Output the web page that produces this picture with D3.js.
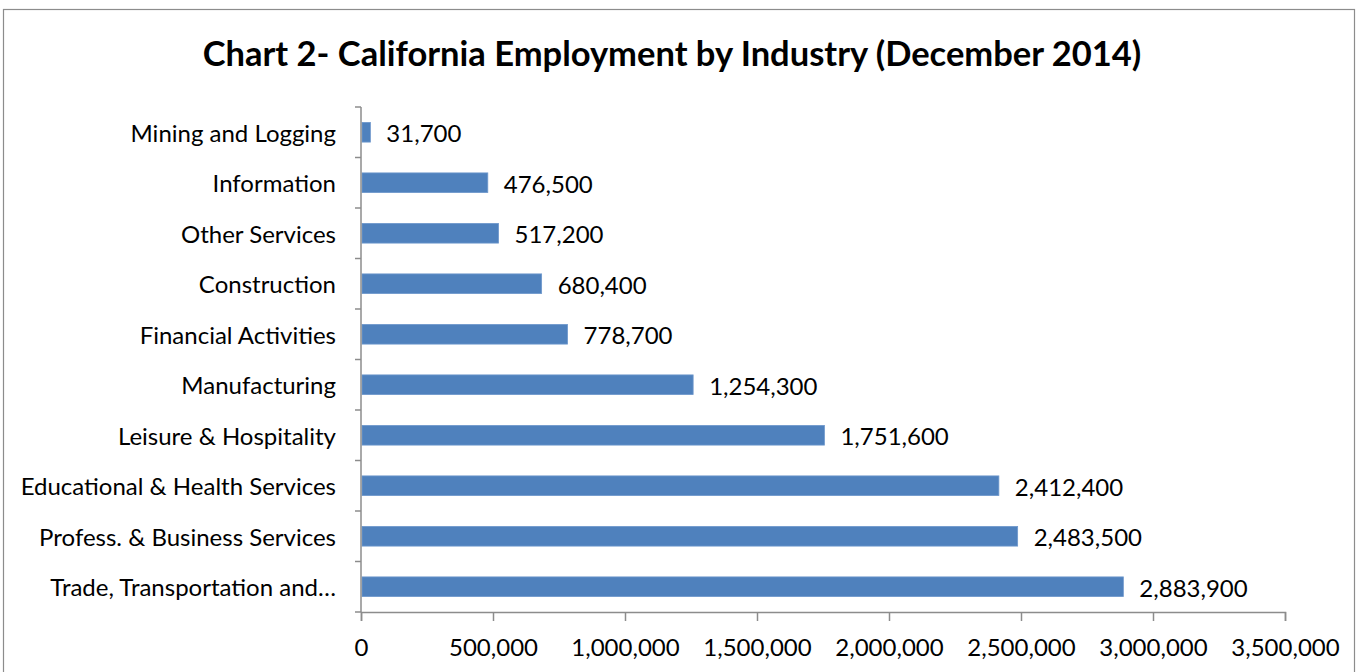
<!DOCTYPE html>
<html>
<head>
<meta charset="utf-8">
<script src="https://cdn.jsdelivr.net/npm/d3@7"></script>
<style>
  body { margin: 0; background: #fff; }
  svg { display: block; font-family: Lato, "Open Sans", sans-serif; }
</style>
</head>
<body>
<svg id="chart"></svg>
<script>
// data
const industries = [
  "Mining and Logging",
  "Information",
  "Other Services",
  "Construction",
  "Financial Activities",
  "Manufacturing",
  "Leisure & Hospitality",
  "Educational & Health Services",
  "Profess. & Business Services",
  "Trade, Transportation and\u2026"
];
const employment = [31700, 476500, 517200, 680400, 778700, 1254300, 1751600, 2412400, 2483500, 2883900];
const xTicks = [0, 500000, 1000000, 1500000, 2000000, 2500000, 3000000, 3500000];

// setup
const width = 1356, height = 672;
const margin = { top: 107, right: 71, bottom: 60, left: 361 };
const barColor = "#4f81bd";
const labelSize = 24;
const fmt = d3.format(",");

const svg = d3.select("#chart").attr("width", width).attr("height", height);

// outer frame
svg.append("rect")
  .attr("x", 3.5).attr("y", 9.5)
  .attr("width", 1351).attr("height", 680)
  .attr("fill", "none").attr("stroke", "#8c8c8c").attr("stroke-width", 1.2);

svg.append("text")
  .attr("x", 672).attr("y", 66)
  .attr("text-anchor", "middle")
  .attr("font-size", 34.5).attr("font-weight", "bold")
  .text("Chart 2- California Employment by Industry (December 2014)");

const x = d3.scaleLinear()
  .domain([0, 3500000])
  .range([margin.left, width - margin.right]);

const y = d3.scaleBand()
  .domain(industries)
  .range([margin.top, 612])
  .paddingInner(0.61)
  .paddingOuter(0.305);

// bars
svg.append("g")
  .selectAll("rect")
  .data(industries)
  .join("rect")
    .attr("x", x(0) + 1)
    .attr("y", d => y(d))
    .attr("width", (d, i) => x(employment[i]) - x(0))
    .attr("height", y.bandwidth())
    .attr("fill", barColor)
    .attr("stroke", "#6f98cc")
    .attr("stroke-width", 0.8);

// value labels
svg.append("g")
  .selectAll("text")
  .data(industries)
  .join("text")
    .attr("x", (d, i) => x(employment[i]) + 17)
    .attr("y", d => y(d) + y.bandwidth() / 2)
    .attr("dy", "0.42em")
    .attr("font-size", labelSize)
    .attr("fill", "#000")
    .text((d, i) => fmt(employment[i]));

// y axis: line + ticks between categories
const yAxis = svg.append("g");
yAxis.append("line")
  .attr("x1", x(0)).attr("x2", x(0))
  .attr("y1", margin.top).attr("y2", 612)
  .attr("stroke", "#8c8c8c").attr("stroke-width", 1.5);
const step = y.step();
yAxis.selectAll("line.tk")
  .data(d3.range(industries.length + 1))
  .join("line")
    .attr("class", "tk")
    .attr("x1", x(0) - 6).attr("x2", x(0))
    .attr("y1", i => margin.top + i * step)
    .attr("y2", i => margin.top + i * step)
    .attr("stroke", "#8c8c8c").attr("stroke-width", 1.5);
yAxis.selectAll("text")
  .data(industries)
  .join("text")
    .attr("x", 336)
    .attr("y", d => y(d) + y.bandwidth() / 2)
    .attr("dy", "0.4em")
    .attr("text-anchor", "end")
    .attr("font-size", labelSize)
    .text(d => d);

// x axis
const xAxis = svg.append("g").attr("transform", "translate(0,612)")
  .call(d3.axisBottom(x).tickValues(xTicks).tickFormat(fmt).tickSize(9).tickPadding(18));
xAxis.select(".domain").attr("stroke", "#8c8c8c").attr("stroke-width", 1.5);
xAxis.selectAll(".tick line").attr("stroke", "#8c8c8c").attr("stroke-width", 1.5);
xAxis.selectAll(".tick text").attr("font-size", labelSize).attr("font-family", "Lato, 'Open Sans', sans-serif").attr("fill", "#000");
</script>
</body>
</html>
